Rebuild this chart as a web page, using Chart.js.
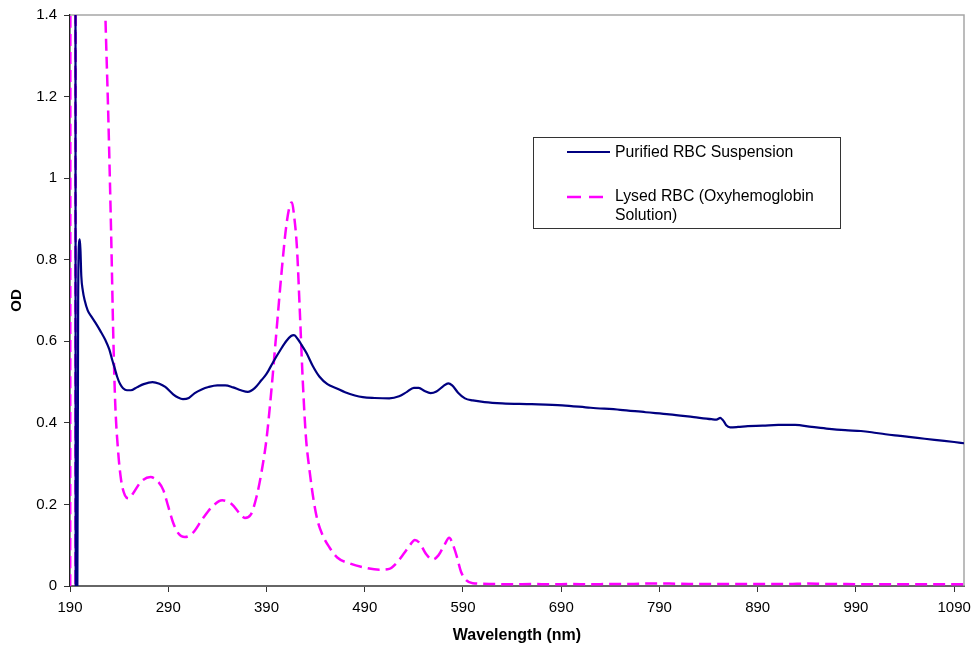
<!DOCTYPE html>
<html>
<head>
<meta charset="utf-8">
<script src="https://cdn.jsdelivr.net/npm/chart.js@4/dist/chart.umd.min.js"></script>
<style>
  html, body { margin: 0; padding: 0; background: #ffffff; }
  #wrap { position: relative; width: 974px; height: 647px; }
</style>
</head>
<body>
<div id="wrap"><canvas id="c" width="974" height="647"></canvas></div>
<script>
// ---------------- DATA ----------------
const xTicks = [190, 290, 390, 490, 590, 690, 790, 890, 990, 1090];
const yTicks = [0, 0.2, 0.4, 0.6, 0.8, 1.0, 1.2, 1.4];
const yTickLabels = ['0', '0.2', '0.4', '0.6', '0.8', '1', '1.2', '1.4'];
const xTitle = 'Wavelength (nm)';
const yTitle = 'OD';
const seriesNames = ['Purified RBC Suspension', ['Lysed RBC (Oxyhemoglobin', 'Solution)']];

// Purified RBC Suspension
const rbcWavelength = [190.5, 195.5, 195.8, 197.5, 198.3, 199.2, 200, 200.7, 201.5, 203, 205, 208, 212, 216, 221, 226, 230, 233, 236, 238, 241, 244, 248, 252, 258, 265, 274, 281, 287, 295, 300, 305, 311, 317, 324, 331, 340, 348, 356, 364, 371, 378, 385, 390, 397, 404, 410, 415, 418, 422, 426, 431, 437, 444, 452, 461, 470, 480, 488, 500, 515, 525, 533, 540, 545, 551, 557, 563, 570, 575, 579, 585, 592, 600, 612, 630, 660, 691, 720, 750, 776, 800, 825, 843, 848, 852, 854, 856, 858, 862, 870, 880, 895, 911, 928, 945, 960, 979, 995, 1006, 1020, 1035, 1046, 1060, 1075, 1090, 1100];
const rbcOD = [2.0, 2.0, 0, 0, 0.70, 0.84, 0.85, 0.82, 0.76, 0.725, 0.70, 0.676, 0.66, 0.645, 0.625, 0.603, 0.58, 0.554, 0.53, 0.513, 0.495, 0.485, 0.48, 0.48, 0.487, 0.495, 0.50, 0.496, 0.488, 0.47, 0.462, 0.458, 0.461, 0.473, 0.482, 0.488, 0.492, 0.492, 0.487, 0.48, 0.476, 0.485, 0.505, 0.52, 0.55, 0.578, 0.60, 0.613, 0.615, 0.605, 0.59, 0.57, 0.54, 0.513, 0.495, 0.485, 0.475, 0.467, 0.463, 0.461, 0.46, 0.465, 0.476, 0.486, 0.486, 0.478, 0.473, 0.477, 0.49, 0.497, 0.492, 0.474, 0.46, 0.455, 0.451, 0.448, 0.446, 0.443, 0.437, 0.432, 0.426, 0.421, 0.414, 0.409, 0.408, 0.412, 0.408, 0.402, 0.394, 0.389, 0.39, 0.392, 0.393, 0.395, 0.395, 0.39, 0.386, 0.382, 0.38, 0.377, 0.372, 0.368, 0.365, 0.361, 0.357, 0.353, 0.35];

// Lysed RBC (Oxyhemoglobin Solution)
const lysedWavelength = [190.2, 190.5, 195.3, 195.6, 196.0, 215, 226, 229, 232, 234, 236, 239, 242, 246, 250, 255, 262, 272, 280, 285, 290, 295, 300, 307, 315, 325, 335, 345, 355, 362, 368, 374, 380, 385, 390, 395, 400, 405, 410, 414, 416, 418, 421, 424, 427, 430, 434, 438, 442, 448, 454, 462, 475, 490, 505, 515, 522, 530, 536, 541, 546, 552, 559, 565, 571, 576, 580, 584, 588, 593, 600, 620, 640, 660, 680, 700, 720, 740, 760, 780, 800, 820, 840, 860, 880, 900, 920, 940, 960, 980, 1000, 1020, 1040, 1060, 1080, 1100];
const lysedOD = [0, 2.0, 2.0, 0, 2.0, 2.5, 1.40, 1.15, 0.85, 0.62, 0.45, 0.33, 0.26, 0.222, 0.215, 0.23, 0.255, 0.267, 0.255, 0.235, 0.195, 0.155, 0.13, 0.12, 0.13, 0.165, 0.195, 0.21, 0.20, 0.18, 0.167, 0.175, 0.22, 0.28, 0.36, 0.48, 0.62, 0.76, 0.88, 0.935, 0.94, 0.91, 0.83, 0.67, 0.50, 0.37, 0.28, 0.21, 0.16, 0.12, 0.095, 0.07, 0.055, 0.045, 0.04, 0.042, 0.055, 0.08, 0.10, 0.113, 0.105, 0.08, 0.065, 0.075, 0.10, 0.118, 0.10, 0.07, 0.035, 0.015, 0.007, 0.005, 0.004, 0.005, 0.004, 0.005, 0.004, 0.005, 0.005, 0.006, 0.006, 0.005, 0.005, 0.005, 0.005, 0.005, 0.005, 0.006, 0.005, 0.005, 0.004, 0.004, 0.004, 0.004, 0.004, 0.004];

// ---------------- STYLE ----------------
const RBC_COLOR = '#000080';
const LYSED_COLOR = '#ff00ff';
const LYSED_DASH = [12, 6];
const FONT = "'Liberation Sans', Arial, sans-serif";
Chart.defaults.font.family = FONT;
Chart.defaults.color = '#000';

const toPoints = (xs, ys) => xs.map((x, i) => ({ x: x, y: ys[i] }));

const frameAndLegend = {
  id: 'frameAndLegend',
  beforeDatasetsDraw(chart) {
    const { ctx, chartArea: a } = chart;
    ctx.save();
    ctx.strokeStyle = '#a6a6a6';
    ctx.lineWidth = 1.5;
    ctx.beginPath();
    ctx.moveTo(a.left, a.top);
    ctx.lineTo(a.right, a.top);
    ctx.lineTo(a.right, a.bottom);
    ctx.stroke();
    ctx.restore();
  },
  afterDraw(chart) {
    const { ctx } = chart;
    ctx.save();
    // legend box
    const bx = 533.5, by = 137.5, bw = 307, bh = 91;
    ctx.fillStyle = '#fff';
    ctx.fillRect(bx, by, bw, bh);
    ctx.strokeStyle = '#333';
    ctx.lineWidth = 1;
    ctx.strokeRect(bx, by, bw, bh);
    ctx.font = '15.8px ' + FONT;
    ctx.fillStyle = '#000';
    ctx.textBaseline = 'middle';
    ctx.textAlign = 'left';
    // entry 1
    ctx.strokeStyle = RBC_COLOR;
    ctx.lineWidth = 2;
    ctx.beginPath(); ctx.moveTo(567, 152); ctx.lineTo(610, 152); ctx.stroke();
    ctx.fillText(seriesNames[0], 615, 153);
    // entry 2
    ctx.strokeStyle = LYSED_COLOR;
    ctx.lineWidth = 2.5;
    ctx.setLineDash([14, 8]);
    ctx.beginPath(); ctx.moveTo(567, 197); ctx.lineTo(610, 197); ctx.stroke();
    ctx.setLineDash([]);
    ctx.fillText(seriesNames[1][0], 615, 197);
    ctx.fillText(seriesNames[1][1], 615, 216);
    ctx.restore();
  }
};

new Chart(document.getElementById('c'), {
  type: 'line',
  data: {
    datasets: [
      {
        label: 'Purified RBC Suspension',
        data: toPoints(rbcWavelength, rbcOD),
        borderColor: RBC_COLOR,
        borderWidth: 2.2,
        pointRadius: 0,
        cubicInterpolationMode: 'monotone',
        fill: false
      },
      {
        label: 'Lysed RBC (Oxyhemoglobin Solution)',
        data: toPoints(lysedWavelength, lysedOD),
        borderColor: LYSED_COLOR,
        borderWidth: 2.5,
        borderDash: LYSED_DASH,
        pointRadius: 0,
        cubicInterpolationMode: 'monotone',
        fill: false
      }
    ]
  },
  options: {
    responsive: false,
    devicePixelRatio: 1,
    animation: false,
    events: [],
    layout: { padding: { top: 15, right: 10, left: 0, bottom: 0 } },
    plugins: { legend: { display: false }, tooltip: { enabled: false } },
    scales: {
      x: {
        type: 'linear',
        min: 190,
        max: 1100,
        afterBuildTicks: (s) => { s.ticks = xTicks.map(v => ({ value: v })); },
        afterFit: (s) => { s.height = 61; s.paddingLeft = 0; s.paddingRight = 0; },
        ticks: { font: { size: 15 }, color: '#000', padding: 7, maxRotation: 0, autoSkip: false,
                 callback: (v) => String(v) },
        grid: { drawOnChartArea: false, drawTicks: true, tickLength: 6, tickColor: '#333', color: '#333' },
        border: { display: true, color: '#666', width: 2 },
        title: { display: true, text: xTitle, font: { size: 16, weight: 'bold' }, color: '#000',
                 padding: { top: 0, bottom: 2 } }
      },
      y: {
        type: 'linear',
        min: 0,
        max: 1.4,
        afterBuildTicks: (s) => { s.ticks = yTicks.map(v => ({ value: v })); },
        afterFit: (s) => { s.width = 70; s.paddingTop = 0; s.paddingBottom = 0; },
        ticks: { font: { size: 15 }, color: '#000', padding: 7,
                 callback: (v, i) => yTickLabels[i] },
        grid: { drawOnChartArea: false, drawTicks: true, tickLength: 6, tickColor: '#333', color: '#333' },
        border: { display: true, color: '#222', width: 1.5 },
        title: { display: true, text: yTitle, font: { size: 15, weight: 'bold' }, color: '#000',
                 padding: { top: 8, bottom: 0 } }
      }
    }
  },
  plugins: [frameAndLegend]
});
</script>
</body>
</html>
